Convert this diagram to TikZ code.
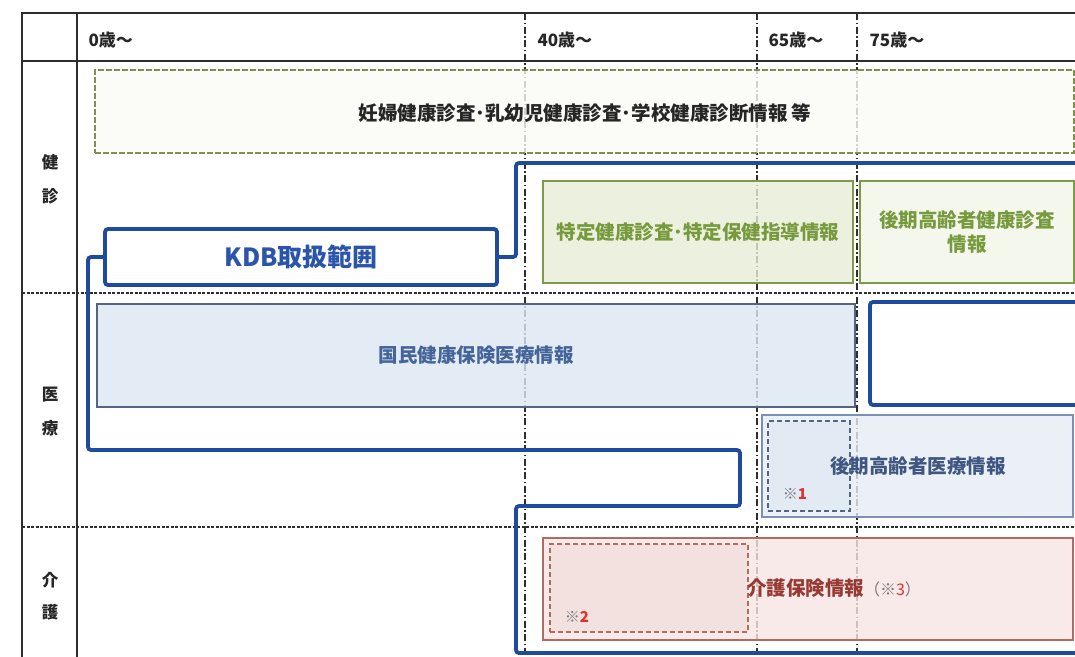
\documentclass[tikz,border=0pt]{standalone}
\usepackage{fontspec}
\setmainfont{Noto Sans CJK JP}
\definecolor{tabline}{HTML}{2E2E2E}
\definecolor{kdbblue}{HTML}{1E4BA0}
\definecolor{kdbtext}{HTML}{2A55AA}
\definecolor{olive}{HTML}{7F8F4F}
\definecolor{pregfill}{HTML}{FAFAF7}
\definecolor{grborder}{HTML}{7F9A4A}
\definecolor{grfill}{HTML}{E6EDD8}
\definecolor{grfillb}{HTML}{F1F5E8}
\definecolor{grtext}{HTML}{779A3C}
\definecolor{blborder}{HTML}{56657F}
\definecolor{blfill}{HTML}{DCE6F3}
\definecolor{bltext}{HTML}{45659A}
\definecolor{blfillb}{HTML}{E6EDF6}
\definecolor{blborderb}{HTML}{7A90B8}
\definecolor{bltextb}{HTML}{3E5680}
\definecolor{rdborder}{HTML}{B26A5E}
\definecolor{rdfill}{HTML}{F7E5E4}
\definecolor{rdfillb}{HTML}{F0DCDB}
\definecolor{rdtext}{HTML}{973A33}
\definecolor{notegray}{HTML}{777777}
\definecolor{notered}{HTML}{E03030}
\begin{document}
\begin{tikzpicture}[x=1pt,y=-1pt]
\tikzset{
  tline/.style={draw=tabline, line width=1.8pt},
  rowsep/.style={draw=tabline, line width=1.5pt, dash pattern=on 3pt off 1.5pt},
  agesep/.style={draw=tabline, line width=1.9pt, dash pattern=on 7pt off 2.5pt on 1.5pt off 2.5pt},
  kdb/.style={draw=kdbblue, line width=3.8pt, rounded corners=3pt},
  infobox/.style={rectangle, inner sep=0pt, line width=1pt},
  innerdash/.style={rectangle, inner sep=0pt, line width=1.3pt, dash pattern=on 5pt off 3pt},
  hdr/.style={anchor=west, font=\fontsize{17}{19}\selectfont\bfseries, text=black!85},
  side/.style={font=\fontsize{16.5}{18}\selectfont\bfseries, text=black!85},
  boxtext/.style={font=\fontsize{19.5}{23}\selectfont\bfseries, align=center},
  note/.style={font=\fontsize{15}{17}\selectfont\bfseries, text=notegray}
}
\useasboundingbox (0,0) rectangle (1075,656);
\fill[white] (0,0) rectangle (1075,656);

% table frame
\draw[tline] (1080,13) -- (22,13) -- (22,660);
\draw[tline] (77,13) -- (77,660);
\draw[tline] (22,61) -- (1080,61);
\draw[rowsep] (22,293) -- (1080,293);
\draw[rowsep] (22,527) -- (1080,527);

% age separators
\draw[agesep] (525,13) -- (525,660);
\draw[agesep] (757,13) -- (757,660);
\draw[agesep] (857,13) -- (857,660);

% header labels
\node[hdr] (h0) at (85,40) {0歳～};
\node[hdr] (h40) at (534,40) {40歳～};
\node[hdr] (h65) at (765,40) {65歳～};
\node[hdr] (h75) at (866,40) {75歳～};

% side labels
\node[side] (s1) at (50,162) {健};
\node[side] (s2) at (50,196) {診};
\node[side] (s3) at (50,395) {医};
\node[side] (s4) at (50,428) {療};
\node[side] (s5) at (50,580) {介};
\node[side] (s6) at (50,612) {護};

% boxes
\node[infobox, draw=olive, line width=1.4pt, dash pattern=on 6pt off 2pt, fill=pregfill, fill opacity=0.8,
      minimum width=979pt, minimum height=83pt] (preg) at (584.5,111.5) {};
\node[boxtext, text=black!85] (pregt) at (585,113) {妊婦健康診査･乳幼児健康診査･学校健康診断情報 等};

\node[infobox, draw=grborder, line width=1.6pt, fill=grfill, fill opacity=0.8,
      minimum width=310pt, minimum height=102pt] (toku) at (698,232) {};
\node[boxtext, text=grtext] (tokut) at (698,232) {特定健康診査･特定保健指導情報};

\node[infobox, draw=grborder, line width=1.6pt, fill=grfillb, fill opacity=0.8,
      minimum width=214pt, minimum height=102pt] (kken) at (967,232) {};
\node[boxtext, text=grtext, font=\fontsize{19.5}{24}\selectfont\bfseries] (kkent) at (967,232) {後期高齢者健康診査\\情報};

\node[infobox, draw=blborder, line width=1.3pt, fill=blfill, fill opacity=0.8,
      minimum width=758pt, minimum height=103pt] (koku) at (476,355.5) {};
\node[boxtext, text=bltext] (kokut) at (476,355) {国民健康保険医療情報};

\node[infobox, draw=blborderb, line width=1.3pt, fill=blfillb, fill opacity=0.8,
      minimum width=311pt, minimum height=102pt] (kiry) at (917.5,466) {};
\node[innerdash, draw=blborder, fill=blfill, fill opacity=0.6,
      minimum width=82pt, minimum height=90pt] (in1) at (809,466) {};
\node[boxtext, text=bltextb] (kiryt) at (918,466) {後期高齢者医療情報};
\node[note] (n1) at (795,494) {※\textcolor{notered}{1}};

\node[infobox, draw=rdborder, line width=1.6pt, fill=rdfill, fill opacity=0.8,
      minimum width=530pt, minimum height=102pt] (kaig) at (808,589) {};
\node[innerdash, draw=rdborder, fill=rdfillb, fill opacity=0.6,
      minimum width=198pt, minimum height=88pt] (in2) at (649,588) {};
\node[boxtext, text=rdtext] (kaigt) at (834,588) {介護保険情報\fontsize{16}{19}\selectfont\mdseries\textcolor{notegray}{（※\textcolor{notered}{3}）}};
\node[note] (n2) at (577,617) {※\textcolor{notered}{2}};

% KDB area
\node[rectangle, draw=kdbblue, line width=3.8pt, rounded corners=3pt, fill=white,
      minimum width=392pt, minimum height=56pt] (kdbbox) at (301,257) {};
\node[font=\fontsize{25}{29}\selectfont\bfseries, text=kdbtext] (kdbt) at (301,257) {KDB取扱範囲};

\coordinate (c0) at (1080,163);
\coordinate (c9) at (1080,653);
\draw[kdb] (c0) -- (516,163) -- (516,257) -- (kdbbox.east);
\draw[kdb] (kdbbox.west) -- (88,257) -- (88,450) -- (740,450) -- (740,506) -- (516,506) -- (516,653) -- (c9);
\draw[kdb, fill=white] (1080,302) -- (870,302) -- (870,405) -- (1080,405);
\end{tikzpicture}
\end{document}
